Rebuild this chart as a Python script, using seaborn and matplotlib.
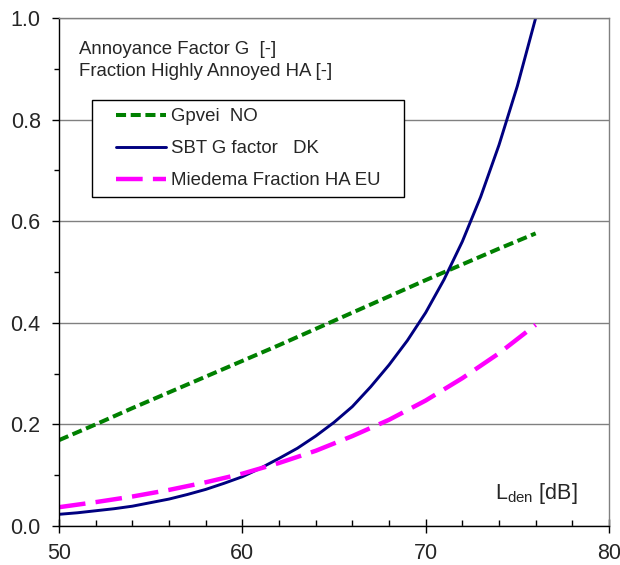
import numpy as np
import pandas as pd
import matplotlib
matplotlib.use("Agg")
import matplotlib.pyplot as plt
import seaborn as sns
from matplotlib.lines import Line2D
from matplotlib.legend_handler import HandlerLine2D
from matplotlib.ticker import MultipleLocator

# ---- data ----
lden_2db = [50, 52, 54, 56, 58, 60, 62, 64, 66, 68, 70, 72, 74, 76]
gpvei_no = [0.169, 0.200, 0.232, 0.263, 0.294, 0.325, 0.356, 0.388,
            0.420, 0.452, 0.484, 0.515, 0.546, 0.576]
miedema_eu = [0.037, 0.047, 0.058, 0.071, 0.086, 0.103, 0.124, 0.148,
              0.177, 0.209, 0.247, 0.291, 0.340, 0.396]
lden_1db = [50, 51, 52, 53, 54, 55, 56, 57, 58, 59, 60, 61, 62, 63,
            64, 65, 66, 67, 68, 69, 70, 71, 72, 73, 74, 75, 76]
sbt_dk = [0.023, 0.026, 0.030, 0.034, 0.039, 0.046, 0.053, 0.062, 0.072,
          0.084, 0.097, 0.114, 0.133, 0.153, 0.177, 0.204, 0.235, 0.274,
          0.317, 0.365, 0.420, 0.485, 0.560, 0.648, 0.750, 0.866, 1.000]
labels = ["Gpvei  NO", "SBT G factor   DK", "Miedema Fraction HA EU"]
x_ticks = [50, 60, 70, 80]
y_ticks = [0.0, 0.2, 0.4, 0.6, 0.8, 1.0]

df_g = pd.DataFrame({"L": lden_2db, "val": gpvei_no})
df_s = pd.DataFrame({"L": lden_1db, "val": sbt_dk})
df_m = pd.DataFrame({"L": lden_2db, "val": miedema_eu})

sns.set_style("white")
plt.rcParams["font.family"] = ["Liberation Sans", "DejaVu Sans"]
plt.rcParams["mathtext.fontset"] = "custom"
plt.rcParams["mathtext.rm"] = "Liberation Sans"
plt.rcParams["mathtext.it"] = "Liberation Sans:italic"

fig = plt.figure(figsize=(6.2, 5.65), dpi=100)
ax = fig.add_axes([59 / 620, 39 / 565, 550 / 620, 508 / 565])

sns.lineplot(data=df_g, x="L", y="val", ax=ax, color="#008000", lw=2.9,
             linestyle=(0, (2.5, 1.15)), label=labels[0])
sns.lineplot(data=df_s, x="L", y="val", ax=ax, color="#000080", lw=2.1,
             label=labels[1])
sns.lineplot(data=df_m, x="L", y="val", ax=ax, color="#FF00FF", lw=3.2,
             linestyle=(0, (6.0, 2.3)), label=labels[2])

ax.set_xlim(50, 80)
ax.set_ylim(0, 1.0)
ax.set_xticks(x_ticks)
ax.set_yticks(y_ticks)
ax.set_yticklabels([f"{v:.1f}" for v in y_ticks])
ax.xaxis.set_minor_locator(MultipleLocator(2))
ax.yaxis.set_minor_locator(MultipleLocator(0.1))
ax.set_xlabel("")
ax.set_ylabel("")

ax.grid(False)
ax.yaxis.grid(True, which="major", color="#808080", lw=1.0)
ax.set_axisbelow(True)

for s in ["left", "bottom"]:
    ax.spines[s].set_color("black")
    ax.spines[s].set_linewidth(1.0)
for s in ["top", "right"]:
    ax.spines[s].set_color("#808080")
    ax.spines[s].set_linewidth(1.0)

ax.tick_params(axis="x", which="major", direction="inout", length=10,
               width=1, color="black", labelsize=15.5, pad=7.5, bottom=True)
ax.tick_params(axis="x", which="minor", direction="in", length=4.5,
               width=1, color="black", bottom=True)
ax.tick_params(axis="y", which="major", direction="out", length=5.2,
               width=1, color="black", labelsize=15.5, pad=8, left=True)
ax.tick_params(axis="y", which="minor", direction="out", length=3.8,
               width=1, color="black", left=True)

tfs = 13.4
ax.text((79 - 59) / 550, (526 - 50) / 508, "Annoyance Factor G  [-]",
        transform=ax.transAxes, fontsize=tfs, va="center", ha="left")
ax.text((79 - 59) / 550, (526 - 72) / 508, "Fraction Highly Annoyed HA [-]",
        transform=ax.transAxes, fontsize=tfs, va="center", ha="left")
ax.text((578 - 59) / 550, (526 - 494) / 508, r"L$_{\mathrm{den}}$ [dB]",
        transform=ax.transAxes, fontsize=15.5, va="center", ha="right")

fs = 13.4
fpx = fs * 100 / 72
leg = ax.legend(loc="upper left",
                bbox_to_anchor=((92 - 59) / 550, (526 - 100) / 508 - 0.3,
                                (404 - 92) / 550, 0.3),
                mode="expand", fontsize=fs, frameon=True, fancybox=False,
                framealpha=1.0, edgecolor="black", borderpad=0.44,
                labelspacing=0.8, handlelength=82 / fpx,
                handletextpad=-11 / fpx, borderaxespad=0,
                handler_map={Line2D: HandlerLine2D(marker_pad=16 / fpx,
                                                   numpoints=2)})
leg.get_frame().set_linewidth(1.0)

fig.savefig("out.png", dpi=100)
